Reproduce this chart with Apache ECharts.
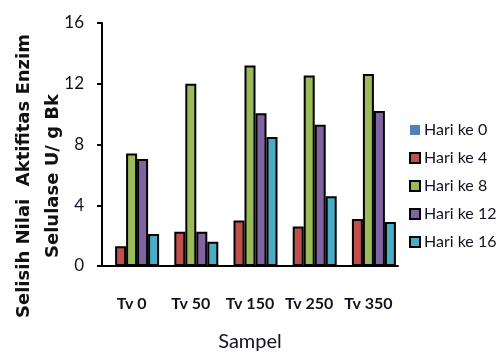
<!DOCTYPE html>
<html>
<head>
<meta charset="utf-8">
<script src="https://cdn.jsdelivr.net/npm/echarts@6/dist/echarts.min.js"></script>
<style>
  html, body { margin: 0; padding: 0; background: #fff; }
  #chart { width: 501px; height: 354px; }
</style>
</head>
<body>
<div id="chart"></div>
<script>
// sample names (x axis)
const categories = ["Tv 0", "Tv 50", "Tv 150", "Tv 250", "Tv 350"];
// values, U/g Bk
const hari0 = [0, 0, 0, 0, 0];
const hari4 = [1.3, 2.25, 3.0, 2.6, 3.1];
const hari8 = [7.4, 12.0, 13.2, 12.55, 12.65];
const hari12 = [7.05, 2.25, 10.05, 9.3, 10.2];
const hari16 = [2.1, 1.6, 8.5, 4.6, 2.9];
const seriesNames = ["Hari ke 0", "Hari ke 4", "Hari ke 8", "Hari ke 12", "Hari ke 16"];
const yTicks = [0, 4, 8, 12, 16];

const font = "Lato";
const txt = "#111122";
const colors = ["#4F81BD", "#C0504D", "#9BBB59", "#8064A2", "#4BACC6"];
const allData = [hari0, hari4, hari8, hari12, hari16];

const chart = echarts.init(document.getElementById("chart"));

const option = {
  backgroundColor: "#FFFFFF",
  animation: false,
  textStyle: { fontFamily: font },
  grid: { left: 102, right: 103, top: 23, bottom: 88, containLabel: false, outerBoundsMode: "none" },
  legend: {
    orient: "vertical",
    left: 404,
    top: 117,
    itemWidth: 10,
    itemHeight: 10,
    itemGap: 12,
    icon: "rect",
    data: seriesNames,
    textStyle: { fontFamily: font, fontSize: 16, color: txt, padding: [0, 0, 0, -1] }
  },
  xAxis: {
    type: "category",
    data: categories,
    boundaryGap: true,
    name: "Sampel",
    nameLocation: "middle",
    nameGap: 66,
    nameTextStyle: { fontFamily: font, fontSize: 20, color: txt },
    axisLine: { lineStyle: { color: "#000", width: 2 } },
    axisTick: { alignWithLabel: true, length: 4, lineStyle: { color: "#000", width: 2 } },
    axisLabel: { interval: 0, margin: 30, fontFamily: font, fontSize: 16, fontWeight: "bold", color: txt }
  },
  yAxis: {
    type: "value",
    min: yTicks[0],
    max: yTicks[yTicks.length - 1],
    interval: 4,
    splitLine: { show: false },
    axisLine: { show: true, lineStyle: { color: "#000", width: 2 } },
    axisTick: { show: true, length: 5, lineStyle: { color: "#000", width: 2 } },
    axisLabel: { margin: 18, fontFamily: font, fontSize: 17, color: txt }
  },
  graphic: [
    {
      type: "text",
      x: 39,
      y: 176,
      rotation: Math.PI / 2,
      style: {
        text: "Selisih Nilai  Aktifitas Enzim\nSelulase U/ g Bk",
        fontFamily: "DejaVu Sans",
        fontWeight: "bold",
        fontSize: 18,
        lineHeight: 29,
        fill: "#111",
        align: "center",
        verticalAlign: "middle"
      }
    }
  ],
  series: seriesNames.map((name, i) => ({
    name: name,
    type: "bar",
    data: allData[i],
    barWidth: 11,
    barGap: "0%",
    itemStyle: {
      color: colors[i],
      borderColor: "#000",
      borderWidth: i === 0 ? 0 : 2
    }
  }))
};

chart.setOption(option);
</script>
</body>
</html>
